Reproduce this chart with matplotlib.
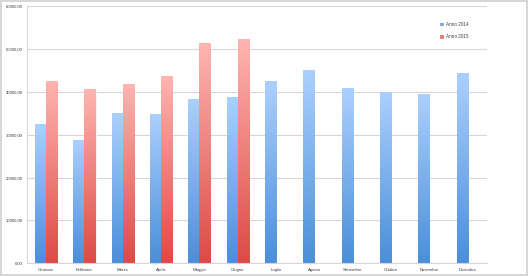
import numpy as np
import matplotlib
matplotlib.use("Agg")
import matplotlib.pyplot as plt
from matplotlib.colors import LinearSegmentedColormap
from matplotlib.patches import Rectangle, Patch

''' [ DATA ] '''

mesi = ["Gennaio", "Febbraio", "Marzo", "Aprile", "Maggio", "Giugno",
        "Luglio", "Agosto", "Settembre", "Ottobre", "Novembre", "Dicembre"]
anno2014 = [32500, 28700, 35000, 34800, 38300, 38800,
            42500, 45000, 40800, 39900, 39400, 44500]
anno2015 = [42600, 40600, 41800, 43700, 51300, 52300]
yticks = [0, 10000, 20000, 30000, 40000, 50000, 60000]

''' [ STYLE ] '''

plt.rcParams["font.family"] = ["Liberation Sans", "DejaVu Sans"]
blueTop, blueBottom = "#acd0fd", "#4a8fd9"
redTop, redBottom = "#ffb5b2", "#dc4b45"
gridColor = "#d6d6d6"
textColor = "#404040"

''' [ PLOT ] '''

fig = plt.figure(figsize=(5.28, 2.76), dpi=100)
fig.patch.set_facecolor("white")
ax = fig.add_axes([0.051, 0.046, 0.871, 0.932])

x = np.arange(len(mesi))
w = 0.29
bars14 = ax.bar(x - w / 2, anno2014, width=w, color=blueBottom, edgecolor="white", linewidth=0.6, zorder=2)
bars15 = ax.bar(x[:len(anno2015)] + w / 2, anno2015, width=w, color=redBottom, edgecolor="white", linewidth=0.6, zorder=2)

def gradientFill(bars, top, bottom):
    cmap = LinearSegmentedColormap.from_list("g", [bottom, top])
    grad = np.linspace(0, 1, 256).reshape(-1, 1)
    for b in bars:
        x0, h, bw = b.get_x(), b.get_height(), b.get_width()
        im = ax.imshow(grad, cmap=cmap, origin="lower", aspect="auto",
                       extent=[x0, x0 + bw, 0, h], zorder=2.5)
        im.set_clip_path(b)

gradientFill(bars14, blueTop, blueBottom)
gradientFill(bars15, redTop, redBottom)

ax.set_xlim(-0.5, len(mesi) - 0.5)
ax.set_ylim(0, 60000)
ax.set_yticks(yticks)
ax.set_yticklabels([("%d,00" % v) for v in yticks])
ax.set_xticks(x)
ax.set_xticklabels(mesi)
ax.tick_params(axis="both", length=0, labelsize=3.1, colors=textColor)
ax.tick_params(axis="y", pad=3)
ax.tick_params(axis="x", pad=3.5)
ax.yaxis.grid(True, color=gridColor, linewidth=0.8, zorder=0)
ax.set_axisbelow(True)
for side in ["top", "right"]:
    ax.spines[side].set_visible(False)
for side in ["left", "bottom"]:
    ax.spines[side].set_color(gridColor)
    ax.spines[side].set_linewidth(0.8)

handles = [Patch(facecolor="#7ab0f0", label="Anno 2014"),
           Patch(facecolor="#f07a74", label="Anno 2015")]
ax.legend(handles=handles, loc="upper left", bbox_to_anchor=(436 / 528, 1 - 18 / 276),
          bbox_transform=fig.transFigure, frameon=False, fontsize=3.3,
          handlelength=0.8, handleheight=0.8, handletextpad=0.4, labelspacing=1.6,
          labelcolor=textColor)

fig.patches.append(Rectangle((0.001, 0.002), 0.997, 0.995, transform=fig.transFigure,
                             fill=False, edgecolor="#d0d0d0", linewidth=1.2))

plt.savefig("out.png", dpi=100)
